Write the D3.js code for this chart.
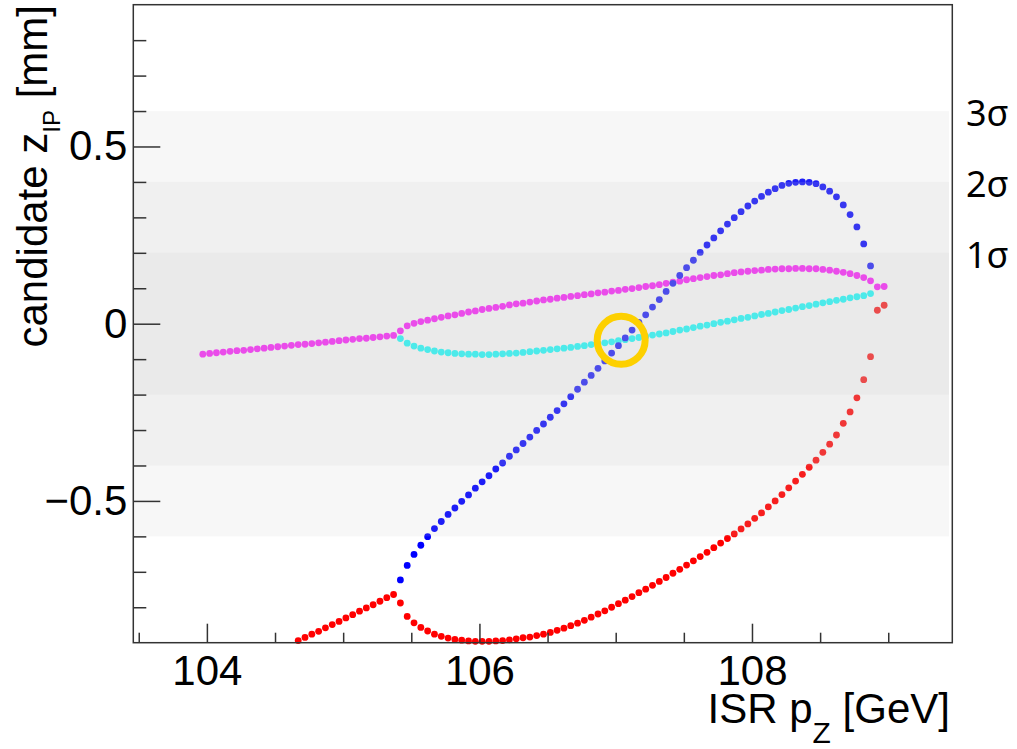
<!DOCTYPE html>
<html>
<head>
<meta charset="utf-8">
<style>
  body { margin: 0; background: #fff; }
  svg { display: block; font-family: 'Liberation Sans', Arial, sans-serif; }
  .axis .domain { display: none; }
  .axis .tick line { stroke: #333; stroke-width: 1.5px; }
  .axis .tick text { font-size: 42px; fill: #000; font-family: 'Liberation Sans', Arial, sans-serif; }
  .title { font-size: 42px; fill: #000; white-space: pre; }
  .sigma { font-family: 'Noto Sans', 'Open Sans', sans-serif; font-size: 36px; fill: #000; }
</style>
</head>
<body>
<svg width="1017" height="749"></svg>
<script src="https://d3js.org/d3.v7.min.js"></script>
<script>
// ISR pz scan points [GeV]
const pz = [
  103.97, 104.02, 104.07, 104.12, 104.17, 104.22, 104.27, 104.32, 104.37, 104.42,
  104.47, 104.52, 104.57, 104.62, 104.67, 104.72, 104.77, 104.82, 104.87, 104.92,
  104.97, 105.02, 105.07, 105.12, 105.17, 105.22, 105.27, 105.32, 105.37, 105.42,
  105.47, 105.52, 105.57, 105.62, 105.67, 105.72, 105.77, 105.82, 105.87, 105.92,
  105.97, 106.02, 106.07, 106.12, 106.17, 106.22, 106.27, 106.32, 106.37, 106.42,
  106.47, 106.52, 106.57, 106.62, 106.67, 106.72, 106.77, 106.82, 106.87, 106.92,
  106.97, 107.02, 107.07, 107.12, 107.17, 107.22, 107.27, 107.32, 107.37, 107.42,
  107.47, 107.52, 107.57, 107.62, 107.67, 107.72, 107.77, 107.82, 107.87, 107.92,
  107.97, 108.02, 108.07, 108.12, 108.17, 108.22, 108.27, 108.32, 108.37, 108.42,
  108.47, 108.52, 108.57, 108.62, 108.67, 108.72, 108.77, 108.82, 108.87, 108.92,
  108.97
];

// candidate z_IP [mm] for each solution, null = no solution
const zMagenta = [
  -0.086, -0.084, -0.082, -0.080, -0.078, -0.076, -0.075, -0.073, -0.071, -0.069,
  -0.067, -0.065, -0.063, -0.061, -0.059, -0.058, -0.056, -0.054, -0.052, -0.050,
  -0.048, -0.046, -0.044, -0.042, -0.041, -0.039, -0.037, -0.035, -0.033, -0.020,
  -0.006, 0.001, 0.006, 0.010, 0.014, 0.018, 0.022, 0.025, 0.029, 0.033,
  0.036, 0.040, 0.043, 0.046, 0.049, 0.053, 0.056, 0.058, 0.061, 0.064,
  0.067, 0.069, 0.072, 0.074, 0.077, 0.079, 0.082, 0.084, 0.087, 0.089,
  0.092, 0.094, 0.097, 0.099, 0.102, 0.105, 0.107, 0.110, 0.114, 0.117,
  0.120, 0.124, 0.127, 0.130, 0.133, 0.136, 0.138, 0.141, 0.144, 0.146,
  0.148, 0.150, 0.151, 0.153, 0.154, 0.155, 0.155, 0.156, 0.156, 0.155,
  0.155, 0.153, 0.151, 0.148, 0.145, 0.141, 0.136, 0.130, 0.121, 0.104,
  0.105
];

const zCyan = [
  null, null, null, null, null, null, null, null, null, null,
  null, null, null, null, null, null, null, null, null, null,
  null, null, null, null, null, null, null, null, null, -0.042,
  -0.055, -0.063, -0.069, -0.073, -0.077, -0.080, -0.082, -0.084, -0.085, -0.086,
  -0.086, -0.087, -0.087, -0.086, -0.085, -0.084, -0.083, -0.081, -0.079, -0.077,
  -0.075, -0.073, -0.071, -0.069, -0.067, -0.064, -0.062, -0.059, -0.056, -0.054,
  -0.051, -0.048, -0.045, -0.042, -0.039, -0.036, -0.032, -0.029, -0.026, -0.022,
  -0.018, -0.015, -0.011, -0.007, -0.004, 0.000, 0.004, 0.007, 0.011, 0.015,
  0.018, 0.022, 0.026, 0.029, 0.033, 0.037, 0.040, 0.044, 0.048, 0.051,
  0.055, 0.059, 0.062, 0.066, 0.069, 0.073, 0.076, 0.079, 0.085, null,
  null
];

const zBlue = [
  null, null, null, null, null, null, null, null, null, null,
  null, null, null, null, null, null, null, null, null, null,
  null, null, null, null, null, null, null, null, null, -0.723,
  -0.682, -0.651, -0.625, -0.601, -0.578, -0.558, -0.538, -0.520, -0.501, -0.483,
  -0.464, -0.446, -0.429, -0.410, -0.393, -0.374, -0.356, -0.338, -0.320, -0.301,
  -0.283, -0.264, -0.245, -0.226, -0.206, -0.185, -0.165, -0.146, -0.126, -0.105,
  -0.083, -0.062, -0.040, -0.018, 0.004, 0.025, 0.047, 0.068, 0.091, 0.114,
  0.136, 0.158, 0.179, 0.201, 0.222, 0.242, 0.262, 0.281, 0.299, 0.316,
  0.332, 0.346, 0.359, 0.371, 0.381, 0.390, 0.396, 0.399, 0.400, 0.399,
  0.395, 0.386, 0.374, 0.358, 0.335, 0.308, 0.273, 0.225, 0.163, null,
  null
];

const zRed = [
  null, null, null, null, null, null, null, null, null, null,
  null, null, null, null, -0.894, -0.885, -0.876, -0.868, -0.858, -0.849,
  -0.840, -0.830, -0.821, -0.811, -0.802, -0.793, -0.783, -0.773, -0.764, -0.788,
  -0.826, -0.844, -0.857, -0.867, -0.876, -0.882, -0.887, -0.891, -0.893, -0.895,
  -0.896, -0.896, -0.896, -0.895, -0.894, -0.892, -0.889, -0.886, -0.884, -0.880,
  -0.876, -0.871, -0.865, -0.859, -0.852, -0.845, -0.837, -0.828, -0.819, -0.810,
  -0.800, -0.790, -0.780, -0.770, -0.759, -0.749, -0.738, -0.727, -0.716, -0.704,
  -0.693, -0.681, -0.669, -0.657, -0.645, -0.632, -0.619, -0.606, -0.593, -0.579,
  -0.565, -0.549, -0.534, -0.517, -0.500, -0.482, -0.463, -0.444, -0.425, -0.405,
  -0.385, -0.363, -0.340, -0.314, -0.281, -0.249, -0.209, -0.158, -0.093, 0.038,
  0.052
];

const sigmaLevels = [0.6, 0.4, 0.2];
const sigmaLabels = ["3σ", "2σ", "1σ"];
const xMajorTicks = [104, 106, 108];
const xMinorTicks = [103.5, 104.5, 105, 105.5, 106.5, 107, 107.5, 108.5, 109];
const yMajorTicks = [-0.5, 0, 0.5];
const yMinorTicks = [-0.8, -0.7, -0.6, -0.4, -0.3, -0.2, -0.1, 0.1, 0.2, 0.3, 0.4, 0.6, 0.7, 0.8];
const marked = { pz: 107.04, z: -0.047 }; // highlighted crossing

const svg = d3.select("svg");

const x = d3.scaleLinear().domain([103.46, 109.47]).range([133.3, 952.3]);
const y = d3.scaleLinear().domain([-0.9, 0.9]).range([642.7, 4.7]);

// markers first, the sigma bands are laid over them semi-transparently
const series = [
  { z: zMagenta, color: "#ff00ff" },
  { z: zCyan, color: "#00ffff" },
  { z: zRed, color: "#ff0000" },
  { z: zBlue, color: "#0000ff" }
];

series.forEach(function (s) {
  let pts = pz.map((p, i) => ({ p: p, z: s.z[i] })).filter(d => d.z !== null);
  svg.append("g")
    .selectAll("circle")
    .data(pts)
    .join("circle")
    .attr("cx", d => x(d.p))
    .attr("cy", d => y(d.z))
    .attr("r", 3.4)
    .style("fill", s.color);
});

svg.append("g")
  .selectAll("rect")
  .data(sigmaLevels)
  .join("rect")
  .attr("x", x(103.46))
  .attr("width", x(109.445) - x(103.46))
  .attr("y", d => y(d))
  .attr("height", d => y(-d) - y(d))
  .style("fill", "rgb(200,200,200)")
  .style("fill-opacity", 0.15);

svg.append("circle")
  .attr("cx", x(marked.pz))
  .attr("cy", y(marked.z))
  .attr("r", 24)
  .style("fill", "none")
  .style("stroke", "#fdd000")
  .style("stroke-width", 7);

// axes, ticks pointing inward
svg.append("g")
  .attr("class", "axis")
  .attr("transform", "translate(0,642.7)")
  .call(d3.axisBottom(x).tickValues(xMinorTicks).tickSizeInner(-10).tickSizeOuter(0).tickFormat(""));

svg.append("g")
  .attr("class", "axis")
  .attr("transform", "translate(0,642.7)")
  .call(d3.axisBottom(x).tickValues(xMajorTicks).tickSizeInner(-19).tickSizeOuter(0).tickPadding(12)
    .tickFormat(d3.format("d")));

svg.append("g")
  .attr("class", "axis")
  .attr("transform", "translate(133.3,0)")
  .call(d3.axisLeft(y).tickValues(yMinorTicks).tickSizeInner(-13).tickSizeOuter(0).tickFormat(""));

svg.append("g")
  .attr("class", "axis")
  .attr("transform", "translate(133.3,0)")
  .call(d3.axisLeft(y).tickValues(yMajorTicks).tickSizeInner(-27).tickSizeOuter(0).tickPadding(6)
    .tickFormat(d => d === 0 ? "0" : d3.format(".1f")(d)));

svg.append("rect")
  .attr("x", 133.3)
  .attr("y", 4.7)
  .attr("width", 952.3 - 133.3)
  .attr("height", 642.7 - 4.7)
  .style("fill", "none")
  .style("stroke", "#333")
  .style("stroke-width", 1.5);

// axis titles
let xt = svg.append("text")
  .attr("class", "title")
  .attr("x", 950)
  .attr("y", 723)
  .attr("text-anchor", "end");
xt.append("tspan").text("ISR p");
xt.append("tspan").attr("dy", 20).style("font-size", "30px").text("Z");
xt.append("tspan").attr("dy", -20).text(" [GeV]");

let yt = svg.append("text")
  .attr("class", "title")
  .attr("transform", "translate(47,5) rotate(-90)")
  .attr("text-anchor", "end");
yt.append("tspan").text("candidate z");
yt.append("tspan").attr("dy", 13).style("font-size", "24px").text("IP");
yt.append("tspan").attr("dy", -13).text(" [mm]");

// sigma labels to the right of the frame
svg.append("g")
  .selectAll("text")
  .data(sigmaLevels)
  .join("text")
  .attr("class", "sigma")
  .attr("x", 966)
  .attr("y", d => y(d) + 15)
  .text((d, i) => sigmaLabels[i]);
</script>
</body>
</html>
